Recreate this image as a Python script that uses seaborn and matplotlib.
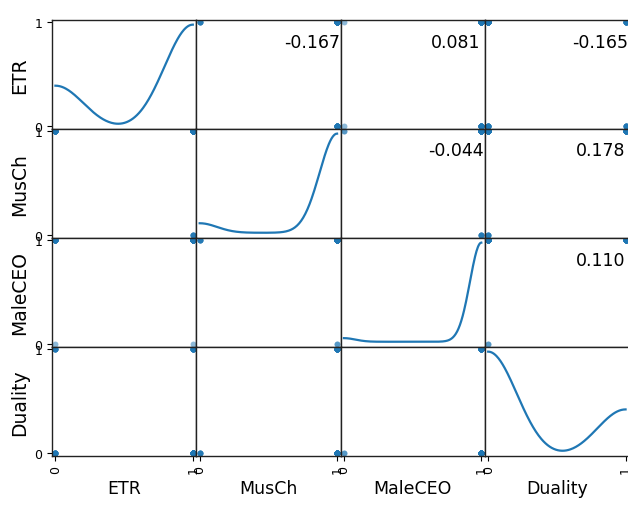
import numpy as np
import pandas as pd
import matplotlib
matplotlib.use("Agg")
import matplotlib.pyplot as plt
import seaborn as sns

columns = ["ETR", "MusCh", "MaleCEO", "Duality"]

# distinct (ETR, MusCh, MaleCEO, Duality) combinations and how many firms share each
combo_etr     = [1, 0, 1, 0, 1, 0, 1]
combo_musch   = [0, 1, 1, 1, 1, 1, 1]
combo_maleceo = [1, 0, 0, 1, 1, 1, 1]
combo_duality = [0, 0, 0, 1, 1, 0, 0]
combo_firms   = [5, 1, 1, 7, 11, 9, 23]

# Pearson coefficients printed in the upper triangle (row variable, column variable)
corr_row = ["ETR", "ETR", "ETR", "MusCh", "MusCh", "MaleCEO"]
corr_col = ["MusCh", "MaleCEO", "Duality", "MaleCEO", "Duality", "Duality"]
corr_val = [-0.167, 0.081, -0.165, -0.044, 0.178, 0.110]

tick_values = [0, 1]
tick_labels = ["0", "1"]

combos = pd.DataFrame({
    "ETR": combo_etr,
    "MusCh": combo_musch,
    "MaleCEO": combo_maleceo,
    "Duality": combo_duality,
})
df = combos.loc[combos.index.repeat(combo_firms)].reset_index(drop=True).astype(float)

blue = "#1f77b4"
g = sns.PairGrid(df, vars=columns, diag_sharey=False, despine=False,
                 height=1.3, aspect=1.3)
g.map_offdiag(sns.scatterplot, color=blue, s=18, alpha=0.5, linewidth=0)
g.map_diag(sns.kdeplot, cut=0, color=blue, linewidth=1.6)

fig = g.figure
fig.set_size_inches(6.28, 5.06)

pad = 0.025
n = len(columns)
for i in range(n):
    for j in range(n):
        ax = g.axes[i, j]
        ax.set_xlim(-pad, 1 + pad)
        ax.set_ylim(-pad, 1 + pad)
        ax.set_xticks(tick_values)
        ax.set_yticks(tick_values)
        for sp in ax.spines.values():
            sp.set_color("#222222")
            sp.set_linewidth(1.0)
        ax.tick_params(axis="x", length=3.5 if i == n - 1 else 0,
                       labelsize=9, labelrotation=90)
        ax.tick_params(axis="y", length=3.5 if j == 0 else 0,
                       labelsize=9, labelrotation=0)
        if j == 0:
            ax.set_yticklabels(tick_labels)
            ax.set_ylabel(columns[i], fontsize=13.5)
        if i == n - 1:
            ax.set_xticklabels(tick_labels)
            ax.set_xlabel(columns[j], fontsize=12.5)

# density curves keep a small margin above and below, like a plain line plot
for dax in g.diag_axes:
    y = dax.lines[0].get_ydata()
    span = y.max() - y.min()
    dax.set_ylim(y.min() - 0.05 * span, y.max() + 0.05 * span)
    dax.set_xlim(-pad, 1 + pad)

for r, c, v in zip(corr_row, corr_col, corr_val):
    ax = g.axes[columns.index(r), columns.index(c)]
    ax.text(0.8, 0.8, f"{v:.3f}", transform=ax.transAxes,
            ha="center", va="center", fontsize=12.5)

fig.subplots_adjust(left=52 / 628, right=629 / 628, top=1 - 20.7 / 506,
                    bottom=1 - 456.7 / 506, wspace=0, hspace=0)
fig.savefig("out.png", dpi=100)
